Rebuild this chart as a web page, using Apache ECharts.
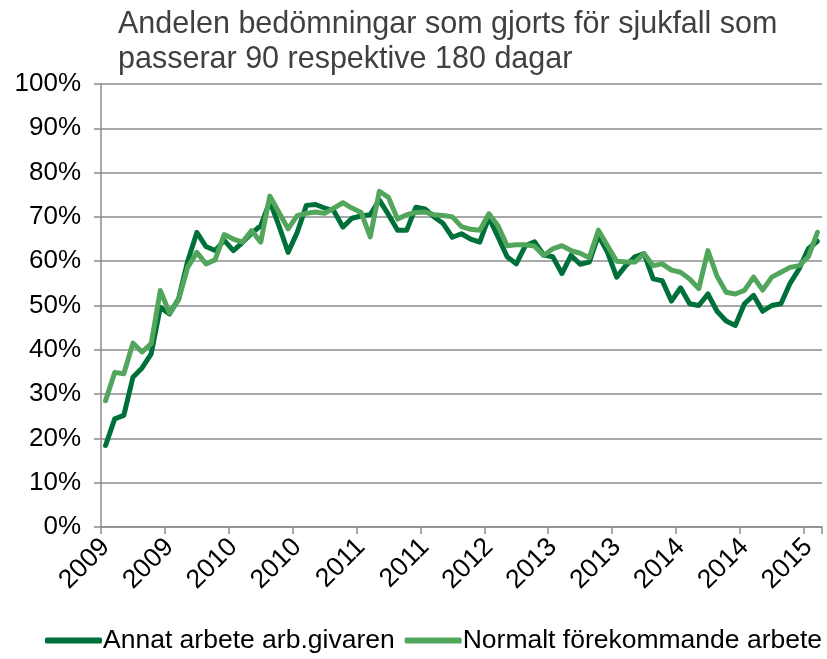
<!DOCTYPE html>
<html>
<head>
<meta charset="utf-8">
<script src="https://cdn.jsdelivr.net/npm/echarts@6/dist/echarts.min.js"></script>
<style>
html,body{margin:0;padding:0;background:#fff;}
#chart{width:827px;height:659px;}
</style>
</head>
<body>
<div id="chart"></div>
<script>
var titleText = "Andelen bedömningar som gjorts för sjukfall som\npasserar 90 respektive 180 dagar";
var seriesNames = ["Annat arbete arb.givaren", "Normalt förekommande arbete"];
var categories = [
"2009-01","2009-02","2009-03","2009-04","2009-05","2009-06","2009-07","2009-08","2009-09","2009-10","2009-11","2009-12",
"2010-01","2010-02","2010-03","2010-04","2010-05","2010-06","2010-07","2010-08","2010-09","2010-10","2010-11","2010-12",
"2011-01","2011-02","2011-03","2011-04","2011-05","2011-06","2011-07","2011-08","2011-09","2011-10","2011-11","2011-12",
"2012-01","2012-02","2012-03","2012-04","2012-05","2012-06","2012-07","2012-08","2012-09","2012-10","2012-11","2012-12",
"2013-01","2013-02","2013-03","2013-04","2013-05","2013-06","2013-07","2013-08","2013-09","2013-10","2013-11","2013-12",
"2014-01","2014-02","2014-03","2014-04","2014-05","2014-06","2014-07","2014-08","2014-09","2014-10","2014-11","2014-12",
"2015-01","2015-02","2015-03","2015-04","2015-05","2015-06","2015-07"
];
var annatArbete = [
18.4,24.4,25.2,33.8,35.9,39.1,49.6,48.1,51.5,60.0,66.5,63.3,
62.4,64.7,62.4,64.2,66.3,68.0,73.5,68.0,62.0,66.5,72.6,72.8,
72.0,71.4,67.7,69.7,70.2,70.5,73.8,70.5,67.0,67.0,72.2,71.8,
70.0,68.5,65.4,66.2,65.0,64.3,69.9,65.5,61.0,59.4,63.5,64.4,
61.4,61.0,57.2,61.3,59.3,59.8,65.8,62.0,56.4,59.0,61.0,61.7,
56.0,55.6,51.0,54.0,50.4,50.0,52.6,48.7,46.5,45.5,50.4,52.3,
48.7,50.0,50.4,55.0,58.3,62.8,64.5
];
var normaltArbete = [
28.5,34.9,34.6,41.5,39.5,41.4,53.4,48.3,51.3,58.6,62.0,59.4,
60.3,66.0,65.0,64.3,66.9,64.3,74.7,71.0,67.3,70.3,70.8,71.1,
70.8,72.0,73.2,72.0,71.0,65.5,75.8,74.4,69.5,70.5,71.0,71.1,
70.5,70.3,70.0,67.8,67.2,67.0,70.7,68.0,63.5,63.7,63.7,63.4,
61.3,62.8,63.5,62.4,61.8,60.8,67.0,63.5,60.0,59.8,59.8,61.7,
59.0,59.4,58.0,57.5,56.0,53.8,62.4,56.6,53.0,52.6,53.4,56.4,
53.5,56.4,57.5,58.6,59.0,61.0,66.5
];
var colors = ["#00703a", "#52a65c"];
var fontFamily = "'Liberation Sans', Arial, sans-serif";

var chart = echarts.init(document.getElementById('chart'), null, {renderer:'canvas'});
chart.setOption({
  animation: false,
  backgroundColor: '#ffffff',
  color: colors,
  title: {
    text: titleText,
    left: 113, top: 2,
    textStyle: {fontFamily: fontFamily, fontSize: 30.5, fontWeight: 'normal', color: '#404040', lineHeight: 35}
  },
  legend: {
    bottom: 5, left: 45, width: 782, padding: 0,
    itemWidth: 57, itemHeight: 6, itemGap: 10,
    icon: 'roundRect',
    textStyle: {fontFamily: fontFamily, fontSize: 26.5, color: '#000', padding: [0,0,0,-4]},
    data: seriesNames
  },
  grid: {left: 101, right: 5, top: 84, bottom: 132, containLabel: false},
  xAxis: {
    type: 'category',
    data: categories,
    boundaryGap: true,
    axisLine: {lineStyle: {color: '#8c8c8c', width: 1.5}},
    axisTick: {show: true, interval: 6, length: 7, lineStyle: {color: '#8c8c8c', width: 1.5}},
    axisLabel: {
      interval: 6, rotate: 45, margin: 16,
      fontFamily: fontFamily, fontSize: 26.5, color: '#000',
      formatter: function (v) { return v.slice(0, 4); }
    },
    splitLine: {show: false}
  },
  yAxis: {
    type: 'value', min: 0, max: 100, interval: 10,
    axisLine: {show: true, lineStyle: {color: '#8c8c8c', width: 1.5}},
    axisTick: {show: true, length: 7, lineStyle: {color: '#8c8c8c', width: 1.5}},
    axisLabel: {fontFamily: fontFamily, fontSize: 26, color: '#000', margin: 20, formatter: '{value}%'},
    splitLine: {show: true, lineStyle: {color: '#8c8c8c', width: 1.5}}
  },
  series: [
    {name: seriesNames[0], type: 'line', data: annatArbete, showSymbol: false, symbol: 'none',
     lineStyle: {width: 5, color: colors[0], join: 'round', cap: 'round'}, itemStyle: {color: colors[0]}},
    {name: seriesNames[1], type: 'line', data: normaltArbete, showSymbol: false, symbol: 'none',
     lineStyle: {width: 5, color: colors[1], join: 'round', cap: 'round'}, itemStyle: {color: colors[1]}}
  ]
});
</script>
</body>
</html>
